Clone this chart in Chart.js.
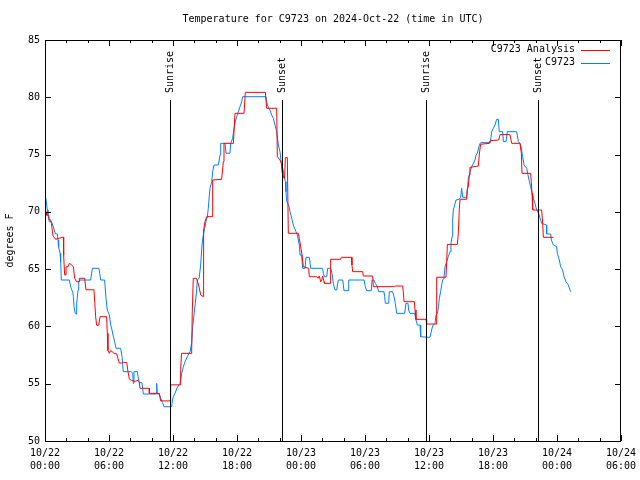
<!DOCTYPE html>
<html>
<head>
<meta charset="utf-8">
<title>Temperature for C9723</title>
<script src="https://cdn.jsdelivr.net/npm/chart.js@4.4.1/dist/chart.umd.min.js"></script>
<style>
  html, body { margin: 0; padding: 0; background: #fff; }
  #wrap { width: 640px; height: 480px; }
</style>
</head>
<body>
<div id="wrap"><canvas id="tempChart" width="640" height="480"></canvas></div>
<script>
// hours after 10/22 00:00 UTC
const analysisHours = [
  0.1, 0.16, 0.35, 0.4, 0.53, 0.6, 0.75, 1.0, 1.34, 1.72, 1.75, 1.84, 1.97, 1.97, 2.16, 2.28, 2.47, 2.66, 2.78, 2.97,
  3.22, 3.22, 3.72, 3.84, 4.59, 4.75, 4.84, 5.03, 5.16, 5.78, 5.84, 5.9, 6.03, 6.16, 6.47, 6.72, 6.84, 6.97, 7.16, 7.34,
  7.66, 7.78, 7.91, 8.09, 8.41, 8.72, 8.84, 8.91, 9.78, 9.78, 10.72, 10.84, 11.72,
  11.78, 12.72, 12.72, 12.8, 13.75, 13.8, 13.9, 14.2, 14.4, 14.6, 14.84, 14.84, 14.9, 15.0, 15.16, 15.66, 15.72, 16.56,
  16.72, 16.78, 17.66, 17.81, 18.66, 18.78, 20.66, 20.78, 21.72, 21.78, 22.03, 22.16, 22.22, 22.4, 22.47, 22.53, 22.72,
  22.81, 23.75, 23.84, 23.97, 24.1, 24.22, 24.72, 24.78, 25.47, 25.6, 25.72, 25.84, 25.95, 26.03, 26.16, 26.2, 26.72,
  26.78, 27.72, 27.78, 28.72, 28.78, 28.84, 29.78, 29.84, 30.72, 30.78, 32.78, 32.84, 33.53, 33.59, 33.66, 34.63, 34.69,
  34.78, 35.72, 35.78, 36.66, 36.72, 37.59, 37.66, 37.72, 38.66, 38.75, 38.84, 38.91, 39.53, 39.59, 39.69, 39.78, 39.84,
  40.63, 40.72, 40.84, 41.66, 41.72, 42.53, 42.66, 43.59, 43.75, 44.53, 44.66, 44.72, 45.53, 45.66, 45.72, 46.56, 46.66,
  46.72, 47.66
];
const analysisTemps = [
  70.0, 69.7, 69.7, 69.3, 69.3, 69.0, 67.9, 67.6, 67.7, 67.8, 66.2, 64.5, 64.5, 65.2, 65.2, 65.5, 65.4, 65.2, 64.2, 63.9,
  63.9, 64.2, 64.2, 63.2, 63.2, 60.85, 60.1, 60.1, 60.85, 60.85, 59.4, 57.9, 57.65, 57.9, 57.65, 57.6, 57.2, 56.8, 56.8, 56.85,
  56.85, 56.05, 55.4, 55.3, 55.2, 55.3, 55.1, 54.6, 54.6, 54.16, 54.16, 53.5, 53.5,
  54.9, 54.9, 56.25, 57.65, 57.65, 61.0, 64.2, 64.2, 63.62, 62.74, 62.6, 67.69, 68.42, 69.14, 69.58, 69.58, 72.78, 72.84,
  74.38, 75.98, 75.98, 78.6, 78.6, 80.43, 80.43, 79.04, 79.04, 74.82, 74.53, 74.23, 73.51, 72.93, 72.93, 74.73, 74.73,
  68.13, 68.13, 67.69, 66.96, 66.23, 65.21, 65.07, 64.34, 64.34, 64.2, 64.4, 63.9, 64.05, 64.4, 63.9, 63.76, 63.76,
  65.86, 65.86, 66.03, 66.03, 65.36, 64.78, 64.78, 64.4, 64.4, 63.47, 63.47, 63.53, 63.53, 63.03, 62.16, 62.16, 61.43,
  60.62, 60.62, 60.21, 60.21, 64.29, 64.29, 65.65, 67.16, 67.16, 68.13, 70.22, 71.1, 71.1, 71.97, 72.2, 73.22, 73.89,
  74.0, 75.05, 75.9, 75.98, 76.21, 76.27, 76.74, 76.74, 75.98, 75.98, 75.1, 73.36, 73.36, 71.62, 70.16, 70.16, 69.0,
  67.78, 67.78
];

const obsHours = [
  0.08, 0.16, 0.22, 0.28, 0.41, 0.6, 0.78, 0.97, 1.16, 1.22, 1.28, 1.41, 1.47, 1.53, 2.28, 2.4, 2.5, 2.6, 2.66, 2.72,
  2.84, 2.91, 2.97, 3.1, 3.16, 3.28, 4.28, 4.44, 5.06, 5.22, 5.59, 5.72, 5.84, 6.03, 6.16, 6.28, 6.41, 6.53, 6.66, 7.09,
  7.22, 7.34, 8.09, 8.22, 8.28, 8.34, 8.66, 8.72, 8.84, 9.09, 9.22, 10.41, 10.47, 10.53, 10.72, 10.84, 11.03, 11.16,
  11.88, 11.95, 12.03, 12.19, 12.4, 12.66, 12.81, 12.97, 13.13, 13.34, 13.6, 13.75, 13.84, 13.97, 14.09, 14.2, 14.28,
  14.45, 14.59, 14.72, 14.84, 14.97, 15.09, 15.22, 15.31, 15.41, 15.47, 15.63, 15.72, 15.84, 16.25, 16.41, 16.47, 16.88,
  16.97, 17.34, 17.41, 17.59, 17.72, 17.84, 17.97, 18.13, 18.28, 18.44, 18.53, 20.72, 20.84, 21.09, 21.25, 21.41, 21.56,
  21.72, 21.88, 22.03, 22.16, 22.28, 22.41, 22.53, 22.59, 22.66, 22.84, 22.97, 23.13, 23.28, 23.53, 23.66, 23.84, 23.91,
  24.06, 24.16, 24.38, 24.47, 24.78, 24.91, 26.03, 26.09, 26.2, 26.41, 26.5, 26.78, 26.91, 27.03, 27.19, 27.34, 27.5,
  27.91, 28.03, 28.41, 28.47, 29.91, 30.03, 30.16, 30.59, 30.66, 30.84, 30.97, 31.16, 31.28, 31.78, 31.84, 31.91, 32.22,
  32.28, 32.59, 32.72, 32.84, 32.97, 33.72, 33.84, 34.03, 34.09, 34.22, 34.66, 34.78, 34.91, 35.16, 35.22, 36.09, 36.25,
  36.34, 36.56, 36.66, 36.8, 36.88, 36.97, 37.09, 37.19, 37.28, 37.4, 37.5, 37.66, 37.81, 37.97, 38.06, 38.16, 38.22,
  38.28, 38.41, 38.53, 38.84, 38.97, 39.06, 39.16, 39.53, 39.69, 39.78, 40.0, 40.16, 40.31, 40.41, 40.53, 40.72, 40.84,
  41.72, 41.78, 41.88, 42.03, 42.19, 42.34, 42.5, 42.59, 42.91, 42.97, 43.22, 43.34, 44.22, 44.38, 44.53, 44.66, 44.78,
  44.91, 45.16, 45.28, 45.41, 45.53, 45.66, 45.78, 45.94, 46.09, 46.28, 46.56, 47.03, 47.03, 47.41, 47.47, 47.66, 47.97,
  48.03, 48.22, 48.34, 48.53, 48.66, 48.84, 49.06, 49.28
];
const obsTemps = [
  71.2, 70.6, 70.16, 69.73, 69.14, 69.14, 68.7, 68.07, 68.07, 67.54, 66.9, 66.38, 65.65, 64.05, 64.05, 63.5, 63.2, 63.0, 62.6, 61.72,
  61.14, 61.08, 62.02, 63.18, 63.9, 64.05, 64.05, 65.07, 65.07, 64.05, 64.05, 62.45, 61.43, 61.0, 60.12, 59.69, 59.1, 58.67, 58.09, 58.09,
  57.36, 56.05, 56.05, 55.9, 55.03, 56.05, 56.05, 55.61, 55.09, 55.09, 54.1, 54.1, 55.03, 54.1, 54.1, 53.72, 53.34, 52.99,
  52.99, 53.58, 53.87, 54.16, 54.68, 55.03, 55.9, 56.48, 56.92, 57.36, 57.79, 58.53, 59.98, 61.0, 62.02, 63.0, 64.05,
  64.2, 65.36, 67.11, 67.98, 68.56, 69.14, 69.58, 70.31, 71.47, 72.05, 72.63, 73.51, 74.09, 74.09, 74.96, 75.98, 75.98,
  75.11, 75.11, 75.98, 76.42, 77.29, 77.87, 78.31, 78.74, 79.18, 79.61, 80.05, 80.05, 79.33, 78.89, 78.45, 78.16, 77.58,
  77.0, 75.84, 75.25, 74.23, 73.8, 73.22, 72.63, 71.76, 70.89, 70.6, 70.02, 69.44, 68.85, 68.27, 67.98, 67.11, 66.23,
  66.23, 65.07, 65.07, 66.03, 66.03, 65.07, 65.07, 64.64, 64.34, 64.34, 65.07, 65.07, 64.64, 63.76, 63.18, 63.18, 64.05,
  64.05, 63.12, 63.12, 64.05, 64.05, 63.47, 63.12, 63.12, 64.05, 64.05, 63.76, 63.47, 63.03, 63.03, 62.6, 62.02, 62.02,
  63.03, 63.03, 62.6, 62.02, 61.14, 61.14, 62.02, 62.02, 61.43, 61.14, 61.14, 60.56, 60.12, 60.12, 59.1, 59.05, 59.69,
  60.04, 60.27, 61.0, 61.14, 61.72, 62.45, 63.03, 63.62, 64.05, 64.2, 65.21, 65.65, 66.09, 66.52, 67.25, 67.83, 69.29,
  70.16, 70.6, 71.03, 71.1, 71.27, 72.05, 71.27, 71.27, 72.93, 73.22, 73.94, 74.23, 74.53, 74.96, 75.11, 75.84, 76.04,
  76.04, 76.27, 77.0, 77.29, 77.58, 78.08, 78.08, 77.0, 77.0, 76.13, 76.13, 77.0, 77.0, 76.13, 75.98, 75.55, 74.82,
  74.09, 73.8, 73.22, 72.63, 72.2, 71.62, 71.18, 70.74, 70.16, 69.87, 69.0, 68.85, 68.07, 68.07, 67.54, 67.11, 66.96,
  66.38, 65.8, 65.21, 64.93, 64.34, 63.9, 63.62, 63.03
];

const sunHours = [11.72, 22.22, 35.72, 46.22];
const sunLabels = ['Sunrise', 'Sunset', 'Sunrise', 'Sunset'];
const sunLineTop = 79.8;

const xTickHours = [0, 6, 12, 18, 24, 30, 36, 42, 48, 54];
const xTickLabels = [
  ['10/22', '00:00'], ['10/22', '06:00'], ['10/22', '12:00'], ['10/22', '18:00'],
  ['10/23', '00:00'], ['10/23', '06:00'], ['10/23', '12:00'], ['10/23', '18:00'],
  ['10/24', '00:00'], ['10/24', '06:00']
];
const yTicks = [50, 55, 60, 65, 70, 75, 80, 85];

const FONT = 'DejaVu Sans Mono';

function toPoints(xs, ys) {
  return xs.map((x, i) => ({ x: x, y: ys[i] }));
}

const gnuplotFrame = {
  id: 'gnuplotFrame',
  afterDatasetsDraw(chart) {
    const ctx = chart.ctx;
    const area = chart.chartArea;
    const xs = chart.scales.x;
    const ys = chart.scales.y;
    ctx.save();
    ctx.strokeStyle = '#000';
    ctx.lineWidth = 1;
    ctx.beginPath();
    ctx.rect(Math.round(area.left) + 0.5, Math.round(area.top) + 0.5,
      Math.round(area.right - area.left) - 1, Math.round(area.bottom - area.top));
    // x ticks, major every 6 h and minor every 2 h
    for (let h = 0; h <= 54; h += 2) {
      const px = Math.round(xs.getPixelForValue(h)) + 0.5;
      const len = h % 6 === 0 ? 6 : 3;
      ctx.moveTo(px, area.bottom); ctx.lineTo(px, area.bottom - len);
      ctx.moveTo(px, area.top); ctx.lineTo(px, area.top + len);
    }
    yTicks.forEach(function (v) {
      const py = Math.round(ys.getPixelForValue(v)) + 0.5;
      ctx.moveTo(area.left, py); ctx.lineTo(area.left + 6, py);
      ctx.moveTo(area.right, py); ctx.lineTo(area.right - 6, py);
    });
    // sunrise / sunset markers
    const sunTopPx = Math.round(ys.getPixelForValue(sunLineTop));
    sunHours.forEach(function (h) {
      const px = Math.round(xs.getPixelForValue(h)) + 0.5;
      ctx.moveTo(px, sunTopPx);
      ctx.lineTo(px, area.bottom);
    });
    ctx.stroke();

    ctx.fillStyle = '#000';
    ctx.font = '10px "' + FONT + '"';
    // title
    ctx.textAlign = 'center';
    ctx.textBaseline = 'middle';
    ctx.fillText('Temperature for C9723 on 2024-Oct-22 (time in UTC)', (area.left + area.right) / 2, 19);

    sunHours.forEach(function (h, i) {
      const px = Math.round(xs.getPixelForValue(h)) + 0.5;
      ctx.save();
      ctx.translate(px, sunTopPx - 7);
      ctx.rotate(-Math.PI / 2);
      ctx.textAlign = 'left';
      ctx.textBaseline = 'middle';
      ctx.fillText(sunLabels[i], 0, 0);
      ctx.restore();
    });

    // legend, gnuplot style: text right aligned, sample line on the right
    ctx.textAlign = 'right';
    ctx.textBaseline = 'middle';
    [0, 1].forEach(function (i) {
      const y = area.top + 9.5 + i * 13;
      ctx.fillStyle = '#000';
      ctx.fillText(chart.data.datasets[i].label, area.right - 46, y);
      ctx.strokeStyle = chart.data.datasets[i].borderColor;
      ctx.beginPath();
      ctx.moveTo(area.right - 40, Math.round(y) + 0.5);
      ctx.lineTo(area.right - 11, Math.round(y) + 0.5);
      ctx.stroke();
    });
    ctx.restore();
  }
};

new Chart(document.getElementById('tempChart'), {
  type: 'line',
  data: {
    datasets: [
      { label: 'C9723 Analysis', data: toPoints(analysisHours, analysisTemps), borderColor: '#ff0000' },
      { label: 'C9723', data: toPoints(obsHours, obsTemps), borderColor: '#0080ff' }
    ]
  },
  options: {
    responsive: false,
    animation: false,
    devicePixelRatio: 1,
    layout: { padding: { top: 40, right: 19, left: 0, bottom: 0 } },
    elements: {
      point: { radius: 0, hoverRadius: 0 },
      line: { borderWidth: 1, tension: 0, fill: false }
    },
    plugins: {
      legend: { display: false },
      title: { display: false },
      tooltip: { enabled: false }
    },
    scales: {
      x: {
        type: 'linear',
        min: 0,
        max: 54,
        afterBuildTicks: function (scale) {
          scale.ticks = xTickHours.map(function (v) { return { value: v }; });
        },
        afterFit: function (scale) {
          scale.height = 39;
          scale.paddingLeft = 0;
          scale.paddingRight = 0;
        },
        grid: { display: false, drawTicks: false },
        border: { display: false },
        ticks: {
          maxRotation: 0,
          autoSkip: false,
          padding: 6,
          color: '#000',
          font: { family: FONT, size: 10, lineHeight: 1.3 },
          callback: function (value) {
            const i = xTickHours.indexOf(value);
            return i >= 0 ? xTickLabels[i] : '';
          }
        }
      },
      y: {
        min: 50,
        max: 85,
        afterBuildTicks: function (scale) {
          scale.ticks = yTicks.map(function (v) { return { value: v }; });
        },
        afterFit: function (scale) { scale.width = 45; },
        grid: { display: false, drawTicks: false },
        border: { display: false },
        title: {
          display: true,
          text: 'degrees F',
          color: '#000',
          font: { family: FONT, size: 10 },
          padding: { top: 4, bottom: 0 }
        },
        ticks: {
          padding: 5,
          color: '#000',
          font: { family: FONT, size: 10 }
        }
      }
    }
  },
  plugins: [gnuplotFrame]
});
</script>
</body>
</html>
